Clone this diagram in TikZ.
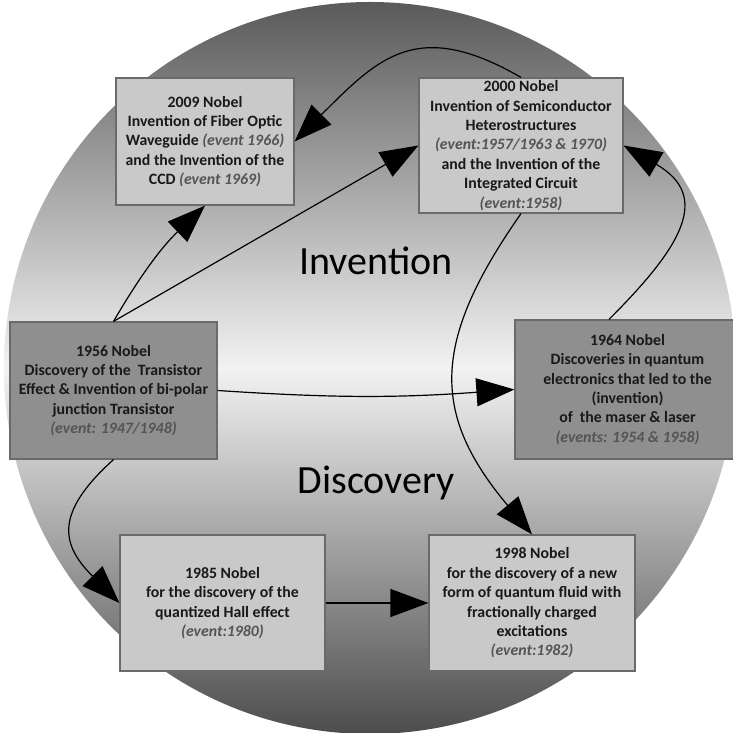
\documentclass[tikz,border=0pt]{standalone}
\usepackage{fontspec}
\setmainfont{Carlito}
\usetikzlibrary{arrows.meta}

\definecolor{boxlight}{HTML}{C9C9C9}
\definecolor{boxdark}{HTML}{8F8F8F}
\definecolor{boxline}{HTML}{6A6A6A}
\definecolor{eventgray}{HTML}{545454}
\definecolor{rimgray}{HTML}{5A5A5A}
\definecolor{glowgray}{HTML}{F2F2F2}

\newcommand{\eventtext}[1]{{\itshape\color{eventgray}#1}}

\begin{document}
\begin{tikzpicture}[x=1pt, y=1pt,
    nobel/.style={draw=boxline, line width=1.2pt, inner sep=0pt, align=center,
        font=\fontsize{15.8}{19.4}\selectfont\bfseries, text=black!90},
    lightbox/.style={nobel, fill=boxlight},
    darkbox/.style={nobel, fill=boxdark},
    arrowline/.style={line width=1.2pt, -{Triangle[length=38pt, width=28pt]}},
    bigword/.style={anchor=base, font=\fontsize{40}{48}\selectfont}]
    \useasboundingbox (0,0) rectangle (732,733);
    \shade[top color=rimgray, bottom color=rimgray!85!black, middle color=glowgray]
        (370,365) circle (366);

    \node (inv) at (376,458.5) [bigword] {Invention};
    \node (disc) at (376,239.5) [bigword] {Discovery};

    \node (n2009) at (205,591.5) [lightbox, minimum width=178, minimum height=127]
        {2009 Nobel\\Invention of Fiber Optic\\Waveguide \eventtext{(event 1966)}\\
         and the Invention of the\\CCD \eventtext{(event 1969)}};
    \node (n2000) at (521,587.5) [lightbox, minimum width=204, minimum height=135]
        {2000 Nobel\\Invention of Semiconductor\\Heterostructures\\
         \eventtext{(event:1957/1963 \& 1970)}\\and the Invention of the\\
         Integrated Circuit\\\eventtext{(event:1958)}};
    \node (n1956) at (113.5,342.5) [darkbox, minimum width=207, minimum height=137]
        {1956 Nobel\\Discovery of the\ \ Transistor\\Effect \& Invention of bi-polar\\
         junction Transistor\\\eventtext{(event: 1947/1948)}};
    \node (n1964) at (627.5,343.5) [darkbox, minimum width=225, minimum height=139]
        {1964 Nobel\\Discoveries in quantum\\electronics that led to the\\(invention)\\
         of\ \ the maser \& laser\\\eventtext{(events: 1954 \& 1958)}};
    \node (n1985) at (222.5,130) [lightbox, minimum width=205, minimum height=136]
        {1985 Nobel\\for the discovery of the\\quantized Hall effect\\
         \eventtext{(event:1980)}};
    \node (n1998) at (532,130) [lightbox, minimum width=206, minimum height=136]
        {1998 Nobel\\for the discovery of a new\\form of quantum fluid with\\
         fractionally charged\\excitations\\\eventtext{(event:1982)}};

    \draw[arrowline] (n1956.north) to[bend left=8] (n2009.south);
    \draw[arrowline] (n1956.north) -- (n2000.west);
    \draw[arrowline] (n2000.north) to[out=150, in=45, looseness=1.3] (n2009.east);
    \draw[arrowline] ([xshift=-18.5pt]n1964.north) to[out=45, in=-30, looseness=1.5] (n2000.east);
    \draw[arrowline] (n1956.east) to[bend right=4] (n1964.west);
    \draw[arrowline] (n2000.south) to[out=235, in=130, looseness=1.25] (n1998.north);
    \draw[arrowline] (n1956.south) to[out=222, in=135, looseness=1.45] (n1985.west);
    \draw[arrowline] (n1985.east) -- (n1998.west);
\end{tikzpicture}
\end{document}
